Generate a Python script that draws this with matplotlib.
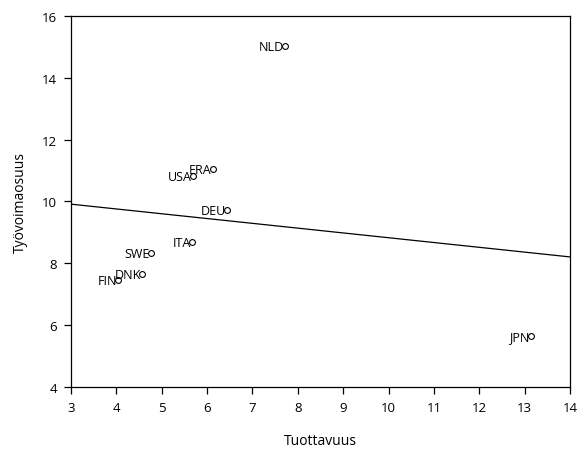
import matplotlib
matplotlib.use("Agg")
import matplotlib.pyplot as plt
import numpy as np

plt.rcParams['font.family'] = ['Open Sans', 'DejaVu Sans']

# maat ja arvot
countries = ["NLD", "ERA", "USA", "DEU", "ITA", "SWE", "DNK", "FIN", "JPN"]
tuottavuus = [7.72, 6.13, 5.69, 6.44, 5.67, 4.76, 4.57, 4.04, 13.14]
tyovoima = [15.03, 11.05, 10.82, 9.72, 8.69, 8.33, 7.65, 7.46, 5.64]

xTicks = list(range(3, 15))
yTicks = [4, 6, 8, 10, 12, 14, 16]

fig = plt.figure(figsize=(5.85, 4.52), dpi=100)
ax = fig.add_axes([0.1214, 0.1416, 0.853, 0.8208])

ax.plot(tuottavuus, tyovoima, linestyle="none", marker="o", markersize=4.2,
        markerfacecolor="white", markeredgecolor="black", markeredgewidth=0.8)

for name, x, y in zip(countries, tuottavuus, tyovoima):
    ax.annotate(name, (x, y), xytext=(-1, -0.5), textcoords="offset points",
                ha="right", va="center", fontsize=9)

# regressiosuora
k, b = np.polyfit(tuottavuus, tyovoima, 1)
xLine = np.array([3, 14])
ax.plot(xLine, k * xLine + b, color="black", linewidth=0.9)

ax.set_xlim(3, 14)
ax.set_ylim(4, 16)
ax.set_xticks(xTicks)
ax.set_yticks(yTicks)
ax.tick_params(direction="out", length=5, width=0.9, labelsize=9.5, pad=5)
for s in ax.spines.values():
    s.set_linewidth(0.9)

ax.set_xlabel("Tuottavuus", fontsize=10, labelpad=14)
ax.set_ylabel("Työvoimaosuus", fontsize=10, labelpad=10)

fig.savefig("out.png", dpi=100)
